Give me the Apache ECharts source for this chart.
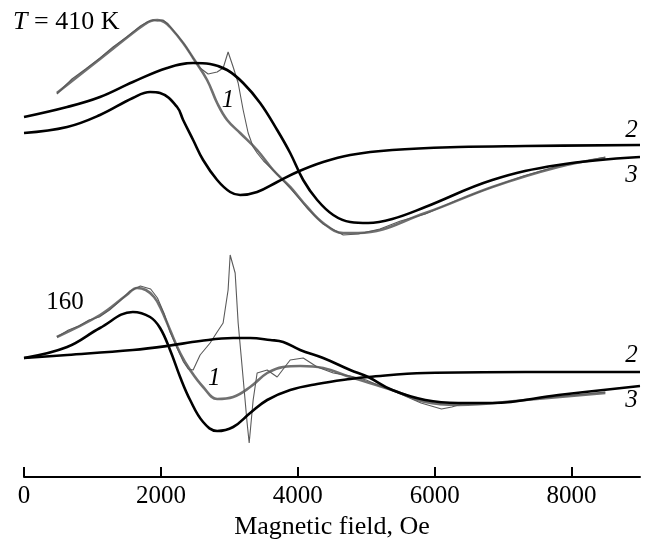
<!DOCTYPE html>
<html>
<head>
<meta charset="utf-8">
<script src="https://cdn.jsdelivr.net/npm/echarts@6/dist/echarts.min.js"></script>
<style>html,body{margin:0;padding:0;background:#fff}#c{width:650px;height:541px}</style>
</head>
<body>
<div id="c"></div>
<script>
// x-axis ticks
var xTicks = [0, 2000, 4000, 6000, 8000];

// ---- T = 410 K (upper set), intensity in arbitrary units ----
var top2X = [0, 630, 1110, 1590, 1842, 1988, 2237, 2325, 2471, 2617, 2822, 3012, 3158, 3406, 3699, 3991, 4371, 4766, 5380, 6345, 7325, 9000];
var top2Y = [344, 350, 362, 379, 385, 384, 370, 357, 337, 317, 297, 285, 282, 285, 295, 305, 315, 322, 327, 330, 331, 332];

var top3X = [0, 630, 1110, 1590, 2091, 2471, 2719, 2968, 3202, 3450, 3699, 3889, 4079, 4284, 4518, 4766, 5029, 5380, 5863, 6842, 7807, 9000];
var top3Y = [360, 370, 380, 395, 409, 414, 413, 407, 394, 374, 347, 324, 297, 277, 262, 255, 254, 258, 270, 297, 312, 320];

var top1X = [480, 1111, 1590, 1750, 1850, 1950, 2050, 2134, 2325, 2471, 2675, 2822, 2968, 3158, 3406, 3640, 3889, 4137, 4371, 4664, 4883, 5863, 6842, 7807, 8494];
var top1Y = [384, 418, 444, 452, 456, 457, 455, 450, 434, 419, 397, 374, 357, 344, 327, 307, 290, 270, 254, 244, 244, 264, 290, 310, 319];

var topExpX = [480, 700, 900, 1110, 1300, 1500, 1700, 1800, 1880, 1950, 2030, 2100, 2150, 2250, 2350, 2471, 2573, 2690, 2822, 2910, 2982, 3056, 3129, 3202, 3275, 3348, 3406, 3500, 3640, 3889, 4137, 4371, 4664, 4883, 5200, 5500, 5863, 6300, 6842, 7300, 7807, 8200, 8494];
var topExpY = [383, 398, 408, 419, 430, 440, 451, 455, 457, 456, 457, 453, 449, 441, 432, 419, 409, 403, 405, 409, 425, 410, 394, 367, 344, 330, 324, 316, 307, 289, 269, 253, 242, 243, 248, 256, 263, 276, 290, 301, 311, 316, 320];

// ---- T = 160 K (lower set) ----
var bot2X = [0, 630, 1110, 1590, 1842, 1988, 2134, 2281, 2427, 2617, 2822, 3056, 3304, 3553, 3889, 4284, 4766, 5029, 5863, 7325, 9000];
var bot2Y = [119, 130, 149, 165, 160, 149, 127, 100, 77, 55, 46, 50, 64, 77, 87, 93, 98, 100, 104, 105, 105];

var bot3X = [0, 630, 1590, 2091, 2573, 3056, 3304, 3597, 3787, 4035, 4371, 4766, 5029, 5380, 5863, 6345, 6842, 7807, 9000];
var bot3Y = [119, 122, 127, 131, 136, 139, 139, 137, 135, 127, 119, 107, 100, 87, 77, 74, 74, 82, 91];

var bot1X = [480, 1111, 1500, 1652, 1780, 1900, 1988, 2134, 2281, 2427, 2617, 2822, 3056, 3304, 3553, 3787, 4035, 4371, 4766, 5380, 5863, 6345, 7325, 8494];
var bot1Y = [140, 162, 182, 189, 187, 180, 170, 147, 124, 107, 90, 78, 80, 90, 104, 110, 111, 109, 100, 87, 75, 72, 77, 84];

var botExpX = [480, 650, 800, 950, 1100, 1250, 1400, 1550, 1700, 1850, 1950, 2050, 2134, 2230, 2330, 2400, 2471, 2573, 2719, 2822, 2909, 2982, 3012, 3085, 3129, 3187, 3260, 3290, 3348, 3406, 3553, 3699, 3889, 4079, 4284, 4518, 4766, 5000, 5200, 5400, 5600, 5800, 5950, 6100, 6250, 6400, 6700, 7000, 7300, 7600, 7900, 8200, 8494];
var botExpY = [140, 147, 151, 157, 160, 167, 176, 186, 191, 188, 179, 163, 145, 130, 115, 108, 107, 122, 134, 145, 154, 187, 222, 204, 154, 110, 54, 34, 77, 104, 107, 100, 117, 119, 110, 104, 101, 97, 91, 86, 80, 74, 71, 68, 70, 73, 73, 75, 77, 79, 81, 83, 85];

function zip(xs, ys) { return xs.map(function (x, i) { return [x, ys[i]]; }); }

var BLACK = '#000000', GRAY = '#707070', EXP = '#5a5a5a';
function curve(name, xs, ys, color, width, smooth, z) {
  return {
    name: name, type: 'line', data: zip(xs, ys), showSymbol: false, symbol: 'none',
    smooth: smooth, z: z,
    lineStyle: { color: color, width: width }, emphasis: { disabled: true }
  };
}

var chart = echarts.init(document.getElementById('c'));
chart.setOption({
  animation: false,
  backgroundColor: '#ffffff',
  grid: { left: 24, right: 10, top: 0, bottom: 64, containLabel: false, outerBoundsMode: 'none' },
  xAxis: {
    type: 'value', min: 0, max: 9000, interval: 1000,
    name: 'Magnetic field, Oe', nameLocation: 'middle', nameGap: 37,
    nameTextStyle: { fontFamily: 'Liberation Serif', fontSize: 26, color: '#000' },
    axisLine: { show: true, onZero: false, lineStyle: { color: '#000', width: 2 } },
    axisTick: { show: true, inside: true, length: 10, customValues: xTicks,
      lineStyle: { color: '#000', width: 2 } },
    axisLabel: {
      margin: 7, fontFamily: 'Liberation Serif', fontSize: 25, color: '#000',
      customValues: xTicks, hideOverlap: false,
      formatter: function (v) { return String(v); }
    },
    splitLine: { show: false }
  },
  yAxis: { type: 'value', min: 0, max: 477, show: false, splitLine: { show: false } },
  series: [
    curve('exp410', topExpX, topExpY, EXP, 1.1, false, 3),
    curve('fit410', top1X, top1Y, GRAY, 2.6, 0.4, 2),
    curve('c2_410', top2X, top2Y, BLACK, 2.6, 0.4, 4),
    curve('c3_410', top3X, top3Y, BLACK, 2.6, 0.4, 4),
    curve('exp160', botExpX, botExpY, EXP, 1.1, false, 3),
    curve('fit160', bot1X, bot1Y, GRAY, 2.6, 0.4, 2),
    curve('c2_160', bot2X, bot2Y, BLACK, 2.6, 0.4, 4),
    curve('c3_160', bot3X, bot3Y, BLACK, 2.6, 0.4, 4)
  ]
});

// annotation anchors in data coordinates
var notes = [
  { t: [{ s: 'T', i: true }, { s: ' = 410 K', i: false }], at: [-160, 455], align: 'left', size: 26 },
  { t: [{ s: '1', i: true }], at: [2982, 377], align: 'center', size: 25 },
  { t: [{ s: '2', i: true }], at: [8874, 347], align: 'center', size: 25 },
  { t: [{ s: '3', i: true }], at: [8874, 302], align: 'center', size: 25 },
  { t: [{ s: '160', i: false }], at: [600, 175], align: 'center', size: 25 },
  { t: [{ s: '1', i: true }], at: [2778, 99], align: 'center', size: 25 },
  { t: [{ s: '2', i: true }], at: [8874, 122], align: 'center', size: 25 },
  { t: [{ s: '3', i: true }], at: [8874, 77], align: 'center', size: 25 }
];
var elems = [];
notes.forEach(function (n) {
  var p = chart.convertToPixel({ gridIndex: 0 }, n.at);
  var rich = {
    it: { fontFamily: 'Liberation Serif', fontStyle: 'italic', fontSize: n.size, fill: '#000' },
    up: { fontFamily: 'Liberation Serif', fontSize: n.size, fill: '#000' }
  };
  var txt = n.t.map(function (r) { return '{' + (r.i ? 'it' : 'up') + '|' + r.s + '}'; }).join('');
  elems.push({
    type: 'text', x: p[0], y: p[1], z: 10,
    style: { text: txt, rich: rich, align: n.align, verticalAlign: 'middle', fill: '#000',
      fontFamily: 'Liberation Serif', fontSize: n.size }
  });
});
chart.setOption({ graphic: { elements: elems } });
</script>
</body>
</html>
